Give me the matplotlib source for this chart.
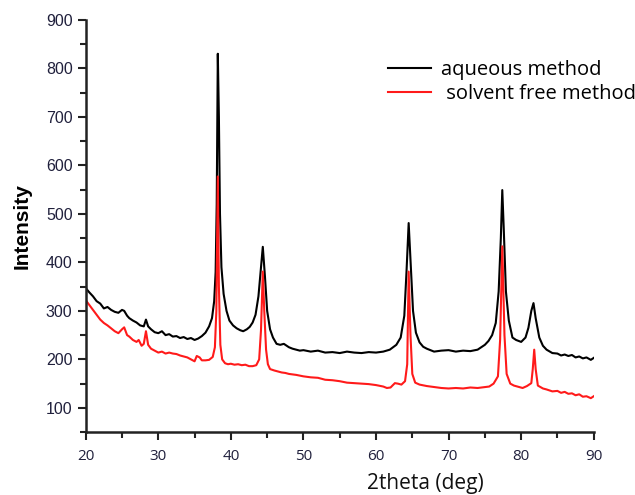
import matplotlib
matplotlib.use('Agg')
import matplotlib.pyplot as plt
from matplotlib.ticker import MultipleLocator

# XRD patterns
aq_x = [20, 20.5, 21, 21.5, 22, 22.5, 23, 23.5, 24, 24.5, 25, 25.3, 25.7, 26, 26.5, 27, 27.5, 28,
        28.3, 28.6, 29, 29.5, 30, 30.5, 31, 31.5, 32, 32.5, 33, 33.5, 34, 34.5, 35, 35.5, 36, 36.5,
        37, 37.4, 37.7, 37.9, 38.05, 38.2, 38.35, 38.5, 38.7, 39.0, 39.4, 39.8, 40.3, 40.8, 41.3,
        41.7, 42.2, 42.6, 43.0, 43.4, 43.8, 44.1, 44.4, 44.7, 45.0, 45.4, 45.8, 46.3, 46.8, 47.3,
        48, 48.5, 49, 49.5, 50, 51, 52, 53, 54, 55, 56, 57, 58, 59, 60, 61, 61.9, 62.8, 63.4, 63.9,
        64.2, 64.5, 64.8, 65.1, 65.5, 66, 66.5, 67, 68, 69, 70, 71, 72, 73, 74, 75, 75.5, 76, 76.5,
        76.9, 77.2, 77.4, 77.6, 77.9, 78.3, 78.8, 79.3, 80, 80.6, 81.0, 81.4, 81.7, 82.0, 82.5, 83,
        83.5, 84.3, 85, 85.5, 86, 86.5, 87, 87.5, 88, 88.5, 89, 89.6, 90]
aq_y = [347, 338, 330, 320, 315, 305, 308, 302, 298, 296, 302, 300, 290, 285, 280, 276, 270, 268,
        282, 268, 262, 256, 254, 258, 250, 252, 247, 248, 244, 246, 242, 244, 240, 243, 248, 255,
        268, 285, 320, 380, 520, 830, 700, 500, 390, 335, 300, 280, 270, 264, 260,
        258, 262, 267, 276, 292, 330, 380, 432, 370, 300, 262, 245, 232, 230, 232,
        225, 222, 220, 218, 219, 216, 218, 214, 215, 213, 216, 214, 213, 215, 214, 216, 220, 230, 245, 290,
        380, 481, 390, 300, 255, 235, 226, 222, 216, 218, 219, 216, 218, 217, 220, 230, 238, 250, 275,
        340, 450, 549, 470, 340, 280, 245, 240, 236, 245, 265, 300, 316, 285, 245, 228,
        220, 213, 212, 208, 210, 207, 209, 204, 206, 202, 204, 199, 203]

sf_x = [20, 20.5, 21, 21.5, 22, 22.5, 23, 23.5, 24, 24.5, 25, 25.3, 25.7, 26, 26.5, 27, 27.3, 27.7,
        28.0, 28.3, 28.6, 29, 29.5, 30, 30.5, 31, 31.5, 32, 32.5, 33, 33.5, 34, 34.5, 35, 35.3, 35.7,
        36, 36.5, 37, 37.5, 37.8, 38.0, 38.2, 38.35, 38.55, 38.8, 39.2, 39.6, 40, 40.5, 41, 41.5,
        42, 42.5, 43, 43.5, 43.9, 44.15, 44.4, 44.6, 44.85, 45.1, 45.4, 46, 46.5, 47, 47.5, 48, 49,
        50, 51, 52, 53, 54, 55, 56, 57, 58, 59, 60, 61, 61.5, 62, 62.6, 63.0, 63.5, 64.0, 64.3, 64.5,
        64.75, 65.0, 65.4, 66, 67, 68, 69, 70, 71, 72, 73, 74, 75, 75.6, 76.2, 76.8, 77.1, 77.4, 77.7,
        78.0, 78.5, 79, 79.5, 80.2, 80.8, 81.4, 81.6, 81.8, 82.0, 82.3, 83, 83.5, 84.3, 85, 85.5, 86,
        86.5, 87, 87.5, 88, 88.5, 89, 89.6, 90]
sf_y = [322, 312, 302, 292, 282, 275, 270, 264, 258, 254, 262, 266, 250, 247, 240, 236, 240, 228,
        232, 258, 230, 222, 218, 214, 216, 212, 214, 212, 211, 208, 206, 204, 200, 196, 207, 204,
        198, 198, 199, 205, 225, 300, 577, 350, 230, 200, 192, 190, 191, 189, 190, 188,
        189, 186, 186, 188, 200, 260, 381, 300, 220, 190, 180, 177, 175, 173, 172, 170, 168,
        165, 163, 162, 158, 157, 155, 152, 151, 150, 149, 147, 144, 141, 142, 151, 150, 148, 155, 190, 381,
        250, 170, 152, 148, 145, 143, 141, 140, 141, 140, 142, 141, 143, 144, 150, 165, 240, 433, 250,
        170, 150, 146, 144, 141, 145, 151, 180, 220, 180, 146, 140, 138, 134, 135, 131, 133,
        129, 130, 126, 128, 123, 124, 120, 124]

tick_col = '#20203c'

fig = plt.figure(figsize=(6.35, 4.95), dpi=100)
ax = fig.add_axes([0.135, 0.127, 0.8, 0.833])

ax.plot(aq_x, aq_y, color='black', lw=1.5, label='aqueous method')
ax.plot(sf_x, sf_y, color='#ff1a1a', lw=1.5, label=' solvent free method')

ax.set_xlim(20, 90)
ax.set_ylim(50, 900)
ax.xaxis.set_major_locator(MultipleLocator(10))
ax.xaxis.set_minor_locator(MultipleLocator(5))
ax.yaxis.set_minor_locator(MultipleLocator(50))
ax.set_yticks(range(100, 1000, 100))

for s in ['top', 'right']:
    ax.spines[s].set_visible(False)
for s in ['left', 'bottom']:
    ax.spines[s].set_linewidth(1.8)
    ax.spines[s].set_color('#222222')

ax.tick_params(which='major', direction='out', length=6, width=1.5, color='#222222')
ax.tick_params(which='minor', direction='out', length=4, width=1.5, color='#222222')
ax.tick_params(axis='y', labelsize=11.5, labelcolor=tick_col)
ax.tick_params(axis='x', labelsize=11, labelcolor=tick_col, pad=6)
for lab in ax.get_yticklabels():
    lab.set_family('Liberation Sans')
for lab in ax.get_xticklabels():
    lab.set_family('Open Sans')

ax.set_ylabel('Intensity', fontsize=15, fontweight='bold', family='Liberation Sans', labelpad=10)
fig.text(425 / 635, 1 - 489 / 495, '2theta (deg)', fontsize=15, family='Open Sans',
         ha='center', va='baseline', color='#111111')

leg = ax.legend(loc='upper left', bbox_to_anchor=(0.56, 0.946), frameon=False,
                prop={'family': 'Open Sans', 'size': 14.5}, handlelength=2.1,
                handletextpad=0.5, labelspacing=0.18)

plt.savefig('out.png', dpi=100)
